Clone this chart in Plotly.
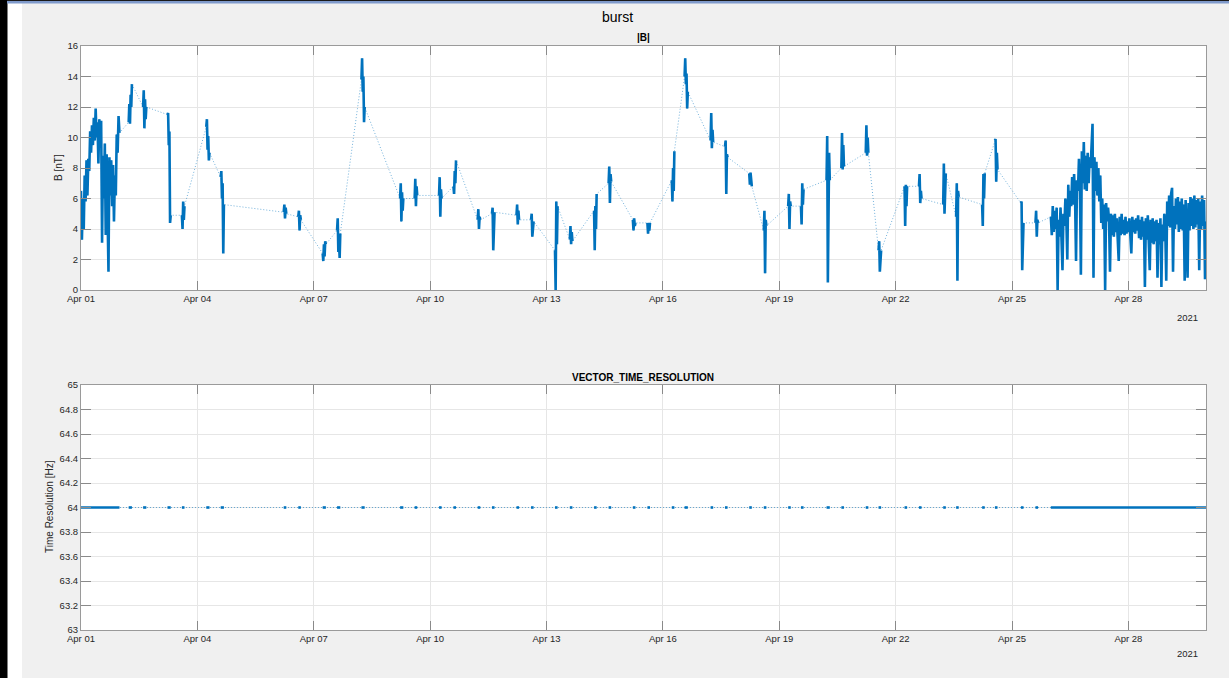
import numpy as np
import pandas as pd
import plotly.graph_objects as go

W, H = 1229, 679

# ---------------- data ----------------
# Continuous burst interval, 1 April
dense1_start = "2021-04-01 00:00"
dense1_step_min = 34
dense1_B = [6.5, 3.3, 6.0, 4.0, 7.5, 5.8, 8.5, 6.2, 8.6, 7.8, 10.4, 9.0, 10.8, 9.5,
            11.3, 9.8, 11.9, 10.0, 11.0, 8.3, 11.2, 9.8, 11.1, 3.1, 8.8, 6.0, 9.6,
            3.6, 8.9, 5.6, 1.2, 8.7, 6.2, 8.5, 5.5, 8.2, 4.5, 7.5, 6.2, 10.2, 9.0,
            11.4, 10.3]

# Short bursts, 2-25 April
burst_starts = [
    "2021-04-02 05:30", "2021-04-02 14:25", "2021-04-03 05:30", "2021-04-03 14:25",
    "2021-04-04 05:30", "2021-04-04 14:25", "2021-04-06 05:25", "2021-04-06 14:25",
    "2021-04-07 05:30", "2021-04-07 14:25", "2021-04-08 05:30", "2021-04-09 05:25",
    "2021-04-09 14:25", "2021-04-10 05:30", "2021-04-10 14:25", "2021-04-11 05:25",
    "2021-04-11 14:15", "2021-04-12 05:25", "2021-04-12 14:25", "2021-04-13 05:15",
    "2021-04-13 14:25", "2021-04-14 05:25", "2021-04-14 14:25", "2021-04-15 05:25",
    "2021-04-15 14:25", "2021-04-16 05:30", "2021-04-16 13:25", "2021-04-17 05:30",
    "2021-04-17 14:25", "2021-04-18 05:25", "2021-04-18 14:25", "2021-04-19 05:30",
    "2021-04-19 13:25", "2021-04-20 05:15", "2021-04-20 14:25", "2021-04-21 05:30",
    "2021-04-21 13:25", "2021-04-22 05:30", "2021-04-22 14:25", "2021-04-23 05:25",
    "2021-04-23 13:25", "2021-04-24 05:30", "2021-04-24 13:25", "2021-04-25 05:30",
    "2021-04-25 14:30",
]
burst_step_min = 24
burst_B = [
    [11.0, 12.2, 10.9, 12.8, 12.0, 13.5],
    [12.0, 13.1, 10.6, 12.5, 11.2, 12.0],
    [11.5, 11.6, 9.5, 10.4, 4.4, 4.9],
    [4.9, 4.0, 5.8, 4.6, 5.5],
    [10.7, 11.2, 9.2, 10.1, 8.5, 9.0],
    [7.4, 7.8, 6.0, 7.0, 2.4, 5.6],
    [5.1, 5.6, 4.7, 5.4, 5.0],
    [4.8, 5.2, 3.9, 4.9, 4.6],
    [2.4, 1.9, 3.0, 2.2, 3.2, 3.0],
    [3.9, 4.7, 2.5, 3.2, 2.1, 3.7],
    [13.8, 15.2, 13.0, 14.0, 11.0, 12.0],
    [6.0, 7.0, 4.5, 6.4, 5.2, 6.0],
    [6.0, 7.3, 5.5, 6.8, 6.2],
    [6.2, 7.4, 4.8, 6.6, 6.0],
    [6.8, 6.3, 7.8, 7.0, 8.5],
    [4.6, 5.3, 4.0, 4.8, 4.6],
    [5.0, 5.4, 2.6, 4.5, 5.1],
    [4.9, 5.6, 4.3, 5.2, 4.6],
    [4.6, 5.0, 3.5, 4.4, 4.5],
    [2.6, 0.0, 5.8, 3.0, 5.5],
    [3.3, 4.2, 3.0, 3.8, 3.2],
    [5.2, 2.6, 5.5, 4.0, 6.3],
    [7.0, 8.1, 5.7, 7.6, 7.1],
    [4.6, 3.9, 4.7, 4.2, 4.4],
    [4.4, 3.7, 4.3, 3.9, 4.4],
    [7.2, 5.8, 8.0, 6.5, 9.1],
    [14.0, 15.2, 13.5, 14.2, 11.9, 13.0],
    [9.8, 11.6, 9.3, 10.5, 9.7],
    [9.4, 9.8, 6.3, 8.9, 8.7],
    [7.65, 6.9, 7.7, 7.2, 6.8],
    [3.9, 5.2, 1.1, 4.6, 4.2],
    [5.5, 6.3, 4.0, 5.8, 5.5],
    [5.5, 4.3, 7.0, 5.6, 6.6],
    [7.2, 10.1, 0.5, 6.0, 9.0, 7.2],
    [8.0, 10.3, 7.9, 9.5, 8.1],
    [9.0, 10.8, 8.8, 10.0, 9.0],
    [2.6, 3.2, 1.2, 2.2, 2.6],
    [6.8, 4.2, 6.9, 5.5, 6.8],
    [6.8, 7.6, 5.7, 6.5, 6.0],
    [5.6, 8.3, 5.0, 7.0, 7.65],
    [4.8, 7.0, 0.6, 6.5, 6.1],
    [5.6, 4.2, 7.6, 6.0, 7.65],
    [9.8, 9.9, 7.1, 9.0, 7.9],
    [5.7, 5.8, 1.3, 4.0, 4.4],
    [4.4, 5.2, 3.5, 4.6, 4.4],
]

# Continuous burst interval, 26-30 April
dense2_start = "2021-04-26 00:00"
dense2_step_min = 36
dense2_B = [
    4.8, 3.6, 5.5, 3.8, 5.2, 4.0, 5.4, 0.0, 4.6, 3.5,
    5.4, 3.8, 1.3, 5.0, 4.2, 6.0, 4.6, 2.0, 6.9, 4.8,
    6.5, 5.5, 7.4, 5.6, 7.6, 6.0, 1.9, 7.2, 6.5, 8.6,
    6.8, 1.0, 9.1, 7.0, 9.7, 6.6, 8.8, 6.5, 9.0, 7.0,
    8.7, 8.0, 9.5, 10.9, 0.8, 8.7, 6.5, 8.4, 6.2, 8.0,
    5.8, 7.5, 4.4, 6.0, 4.0, 5.6, 0.0, 5.7, 4.5, 5.4,
    4.6, 1.2, 5.0, 3.6, 4.9, 3.5, 5.0, 3.8, 4.7, 3.5,
    1.9, 4.8, 3.6, 5.0, 3.7, 4.6, 3.6, 4.8, 3.7, 4.5,
    3.8, 4.7, 3.7, 2.4, 4.8, 3.8, 4.6, 3.7, 4.7, 3.9,
    4.9, 3.4, 4.6, 3.3, 4.8, 3.5, 4.5, 0.2, 4.7, 3.3,
    4.9, 3.4, 1.3, 4.6, 3.1, 4.7, 3.0, 4.5, 3.2, 4.6,
    0.8, 4.4, 3.0, 4.7, 0.2, 4.3, 3.2, 5.0, 4.0, 0.6,
    5.8, 4.2, 6.2, 4.1, 6.3, 6.7, 1.2, 5.5, 4.0, 6.0,
    4.3, 6.1, 3.8, 5.8, 4.0, 6.0, 3.9, 5.6, 0.6, 5.9,
    4.0, 0.8, 5.7, 3.9, 6.1, 4.2, 6.0, 4.0, 6.2, 4.1,
    5.9, 4.3, 6.0, 1.3, 5.8, 4.0, 6.2, 4.2, 5.9, 0.7,
    4.5,
]

time_resolution_hz = 64

x_range = ["2021-04-01", "2021-04-30"]
x_tick0 = "2021-04-01"
yB_range = [0, 16]
yT_range = [63, 65]

fig_title = "burst"
title_B = "|B|"
title_T = "VECTOR_TIME_RESOLUTION"
ylabel_B = "B [nT]"
ylabel_T = "Time Resolution [Hz]"
year_label = "2021"

# ---------------- build segments ----------------
def seg_times(start, step_min, n):
    return pd.Timestamp(start) + pd.to_timedelta(np.arange(n) * step_min, unit="min")

segments = [(seg_times(dense1_start, dense1_step_min, len(dense1_B)), dense1_B)]
for s, vals in zip(burst_starts, burst_B):
    segments.append((seg_times(s, burst_step_min, len(vals)), vals))
segments.append((seg_times(dense2_start, dense2_step_min, len(dense2_B)), dense2_B))

all_t, all_b = [], []
solid_t, solid_b, solid_r = [], [], []
for t, v in segments:
    all_t.extend(list(t))
    all_b.extend(v)
    solid_t.extend(list(t) + [None])
    solid_b.extend(list(v) + [None])
    solid_r.extend([time_resolution_hz] * len(v) + [None])
all_r = [time_resolution_hz] * len(all_t)

BLUE = "#0072BD"
DOT = "rgba(0,114,189,0.55)"
FONT = "Liberation Sans, Arial, sans-serif"
TXT = "#262626"

fig = go.Figure()
fig.add_trace(go.Scatter(x=all_t, y=all_b, mode="lines", xaxis="x", yaxis="y",
                         line=dict(color=DOT, width=1, dash="1px,2px"), hoverinfo="skip"))
fig.add_trace(go.Scatter(x=solid_t, y=solid_b, mode="lines", xaxis="x", yaxis="y",
                         line=dict(color=BLUE, width=2.6), connectgaps=False))
fig.add_trace(go.Scatter(x=all_t, y=all_r, mode="lines", xaxis="x2", yaxis="y2",
                         line=dict(color=DOT, width=1, dash="1px,2px"), hoverinfo="skip"))
fig.add_trace(go.Scatter(x=solid_t, y=solid_r, mode="lines", xaxis="x2", yaxis="y2",
                         line=dict(color=BLUE, width=2.6), connectgaps=False))

def px_x(p):
    return p / W

def px_y(p):
    return 1 - p / H

xdom = [px_x(81), px_x(1206)]
common_x = dict(type="date", range=x_range, tick0=x_tick0, dtick=3 * 86400000,
                tickformat="%b %d", showgrid=True, gridcolor="#e6e6e6", gridwidth=1,
                showline=True, linecolor="#9a9a9a", linewidth=1, mirror="ticks",
                ticks="inside", ticklen=9, tickcolor="#8a8a8a", tickwidth=1,
                tickfont=dict(family=FONT, size=9.5, color=TXT), zeroline=False,
                domain=xdom, automargin=False, fixedrange=True)
common_y = dict(showgrid=True, gridcolor="#e6e6e6", gridwidth=1,
                showline=True, linecolor="#9a9a9a", linewidth=1, mirror="ticks",
                ticks="inside", ticklen=10, tickcolor="#8a8a8a", tickwidth=1,
                tickfont=dict(family=FONT, size=9.5, color=TXT), zeroline=False,
                automargin=False, fixedrange=True)

fig.update_layout(
    width=W, height=H,
    margin=dict(l=0, r=0, t=0, b=0),
    paper_bgcolor="#f0f0f0", plot_bgcolor="#ffffff",
    showlegend=False,
    xaxis=dict(common_x, anchor="y"),
    yaxis=dict(common_y, domain=[px_y(290), px_y(46)], range=yB_range, dtick=2, anchor="x"),
    xaxis2=dict(common_x, anchor="y2"),
    yaxis2=dict(common_y, domain=[px_y(630), px_y(385)], range=yT_range, dtick=0.2, anchor="x2"),
)

ann = [
    dict(text=fig_title, x=px_x(618), y=px_y(17), font=dict(size=14, color="#000000")),
    dict(text="<b>%s</b>" % title_B, x=px_x(643), y=px_y(37), font=dict(size=10, color="#000000")),
    dict(text="<b>%s</b>" % title_T, x=px_x(643), y=px_y(377), font=dict(size=10, color="#000000")),
    dict(text=year_label, x=px_x(1187), y=px_y(317), font=dict(size=9.5, color=TXT)),
    dict(text=year_label, x=px_x(1187), y=px_y(653), font=dict(size=9.5, color=TXT)),
    dict(text=ylabel_B, x=px_x(58), y=px_y(168), textangle=-90, font=dict(size=10, color=TXT)),
    dict(text=ylabel_T, x=px_x(49), y=px_y(507), textangle=-90, font=dict(size=10, color=TXT)),
]
for a in ann:
    a.update(xref="paper", yref="paper", showarrow=False, xanchor="center", yanchor="middle")
    a["font"]["family"] = FONT
    fig.add_annotation(**a)

shapes = [
    dict(x0=px_x(7), x1=px_x(22), y0=px_y(679), y1=px_y(3), fillcolor="#ffffff"),
    dict(x0=px_x(-2), x1=px_x(7.5), y0=px_y(681), y1=px_y(-2), fillcolor="#000000"),
    dict(x0=0, x1=1, y0=px_y(679), y1=px_y(678), fillcolor="#ffffff"),
    dict(x0=px_x(7), x1=1, y0=px_y(3.5), y1=1, fillcolor="#7f9acb"),
    dict(x0=px_x(7), x1=1, y0=px_y(1), y1=1, fillcolor="#1a1a1a"),
]
for s in shapes:
    s.update(type="rect", xref="paper", yref="paper", line=dict(width=0), layer="above")
    fig.add_shape(**s)

fig.write_html("out.html", config={"displayModeBar": False},
               post_script="document.body.style.margin='0';document.body.style.overflow='hidden';")
